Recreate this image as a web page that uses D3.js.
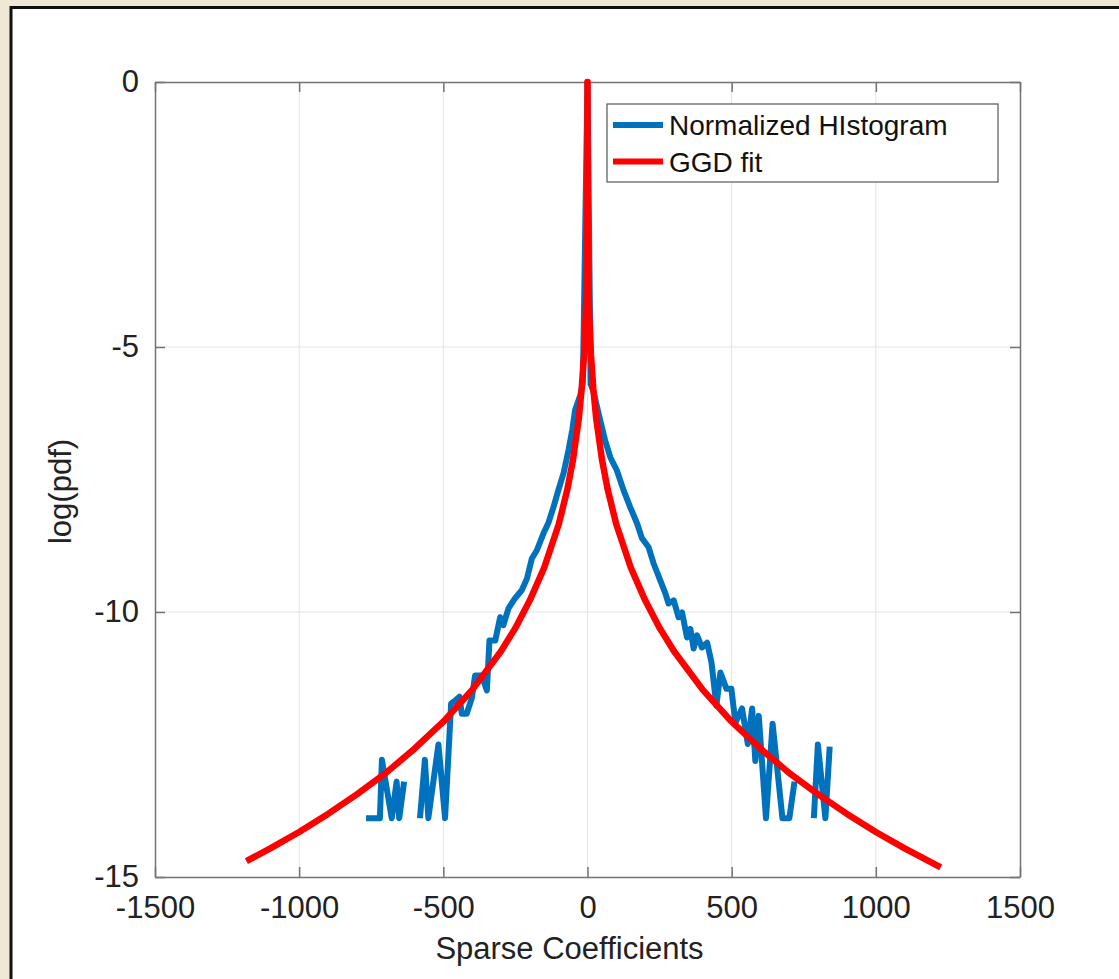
<!DOCTYPE html>
<html>
<head>
<meta charset="utf-8">
<script src="https://cdn.jsdelivr.net/npm/d3@7"></script>
<style>
  body { margin: 0; background: #f0e7d5; }
  svg { display: block; }
</style>
</head>
<body>
<div id="chart"></div>
<script>
// normalized histogram (log pdf), null = empty bin
const histX = [-768, -720, -713, -679, -662, -653, -636, -608, -581, -564, -552, -517, -494, -473, -459, -444, -436, -419, -401, -390, -367, -349, -340, -320, -303, -292, -274, -251, -228, -210, -193, -176, -153, -135, -118, -101, -83, -66, -53, -43, -25, -16, 0, 11, 21, 44, 61, 79, 102, 125, 148, 172, 189, 212, 229, 252, 270, 281, 299, 316, 328, 345, 357, 368, 380, 397, 415, 430, 447, 461, 482, 499, 513, 536, 556, 571, 582, 594, 619, 642, 676, 700, 718, 750, 785, 799, 825, 840];
const histY = [-13.89, -13.89, -12.79, -13.89, -13.20, -13.89, -13.20, null, -13.89, -12.79, -13.89, -12.50, -13.89, -11.73, -11.67, -11.60, -11.92, -11.92, -11.62, -11.20, -11.20, -11.48, -10.54, -10.54, -10.10, -10.25, -9.93, -9.74, -9.59, -9.37, -8.99, -8.84, -8.52, -8.31, -8.02, -7.70, -7.38, -6.95, -6.57, -6.19, -5.91, -5.66, 0, -5.70, -5.85, -6.38, -6.76, -7.08, -7.33, -7.70, -8.02, -8.33, -8.61, -8.78, -9.08, -9.40, -9.65, -9.84, -9.78, -10.10, -10.01, -10.48, -10.32, -10.69, -10.44, -10.67, -10.58, -10.95, -11.77, -11.14, -11.45, -11.45, -12.09, -11.82, -12.49, -11.82, -12.81, -11.96, -13.89, -12.11, -13.89, -13.89, -13.20, null, -13.89, -12.50, -13.89, -12.54];

// generalized gaussian fit
const ggdX = [-1183, -1100, -1000, -900, -800, -700, -600, -500, -400, -300, -250, -200, -150, -100, -70, -50, -30, -20, -12, -6, -3, -1, 0, 1, 3, 6, 12, 20, 30, 50, 70, 100, 150, 200, 250, 300, 400, 500, 600, 700, 800, 900, 1000, 1100, 1225];
const ggdY = [-14.70, -14.46, -14.15, -13.81, -13.44, -13.04, -12.58, -12.07, -11.47, -10.74, -10.30, -9.78, -9.16, -8.35, -7.69, -7.12, -6.34, -5.78, -5.14, -4.38, -3.74, -2.91, 0, -2.91, -3.74, -4.38, -5.14, -5.78, -6.34, -7.12, -7.69, -8.35, -9.16, -9.78, -10.30, -10.74, -11.47, -12.07, -12.58, -13.04, -13.44, -13.81, -14.15, -14.46, -14.82];

const xTicks = [-1500, -1000, -500, 0, 500, 1000, 1500];
const yTicks = [-15, -10, -5, 0];
const seriesNames = ["Normalized HIstogram", "GGD fit"];
const seriesColors = ["#0072bd", "#ff0000"];

const W = 1119, H = 979;
const plot = { left: 155, right: 1020, top: 82, bottom: 877 };
const font = "'Liberation Sans', Arial, Helvetica, sans-serif";
const plain = d => String(d);

const svg = d3.select("#chart").append("svg")
    .attr("width", W)
    .attr("height", H);

// page frame
svg.append("rect")
    .attr("x", 11).attr("y", 7.5)
    .attr("width", W).attr("height", H)
    .attr("fill", "#fff")
    .attr("stroke", "#111")
    .attr("stroke-width", 3);

const x = d3.scaleLinear().domain([-1500, 1500]).range([plot.left, plot.right]);
const y = d3.scaleLinear().domain([-15, 0]).range([plot.bottom, plot.top]);

// grid
const grid = svg.append("g").attr("stroke", "#e3e3e3").attr("stroke-width", 1);
grid.selectAll(".gx")
    .data(xTicks.slice(1, -1))
    .enter().append("line")
    .attr("x1", d => x(d)).attr("x2", d => x(d))
    .attr("y1", plot.top).attr("y2", plot.bottom);
grid.selectAll(".gy")
    .data(yTicks.slice(1, -1))
    .enter().append("line")
    .attr("x1", plot.left).attr("x2", plot.right)
    .attr("y1", d => y(d)).attr("y2", d => y(d));

// axes
const axisColor = "#737373";
const xAxis = svg.append("g")
    .attr("class", "x-axis")
    .attr("transform", `translate(0,${plot.bottom})`)
    .call(d3.axisBottom(x).tickValues(xTicks).tickFormat(plain).tickSize(-10).tickSizeOuter(0));
xAxis.selectAll("text").attr("y", 41).attr("dy", 0);

svg.append("g")
    .attr("transform", `translate(0,${plot.top})`)
    .call(d3.axisTop(x).tickValues(xTicks).tickSize(-10).tickSizeOuter(0))
    .selectAll("text").remove();

svg.append("g")
    .attr("class", "y-axis")
    .attr("transform", `translate(${plot.left},0)`)
    .call(d3.axisLeft(y).tickValues(yTicks).tickFormat(plain).tickSize(-10).tickSizeOuter(0).tickPadding(16));

svg.append("g")
    .attr("transform", `translate(${plot.right},0)`)
    .call(d3.axisRight(y).tickValues(yTicks).tickSize(-10).tickSizeOuter(0))
    .selectAll("text").remove();

svg.selectAll(".tick line, .domain")
    .attr("stroke", axisColor)
    .attr("stroke-width", 1.5);
svg.selectAll(".x-axis text, .y-axis text")
    .attr("fill", "#222")
    .attr("font-family", font)
    .attr("font-size", "31px");

// lines
svg.append("clipPath").attr("id", "plot-clip")
    .append("rect")
    .attr("x", plot.left).attr("y", plot.top - 4)
    .attr("width", plot.right - plot.left)
    .attr("height", plot.bottom - plot.top + 4);

const line = d3.line()
    .defined(d => d[1] !== null)
    .x(d => x(d[0]))
    .y(d => y(d[1]));

const histData = histX.map((v, i) => [v, histY[i]]);
const ggdData = ggdX.map((v, i) => [v, ggdY[i]]);

svg.append("path")
    .datum(histData)
    .attr("clip-path", "url(#plot-clip)")
    .attr("fill", "none")
    .attr("stroke", seriesColors[0])
    .attr("stroke-width", 6)
    .attr("stroke-linejoin", "round")
    .attr("d", line);

svg.append("path")
    .datum(ggdData)
    .attr("clip-path", "url(#plot-clip)")
    .attr("fill", "none")
    .attr("stroke", seriesColors[1])
    .attr("stroke-width", 6.5)
    .attr("stroke-linejoin", "round")
    .attr("d", line);

// axis labels
svg.append("text")
    .attr("x", (plot.left + plot.right) / 2 - 18)
    .attr("y", 959)
    .attr("text-anchor", "middle")
    .attr("font-family", font)
    .attr("font-size", "31px")
    .attr("fill", "#222")
    .text("Sparse Coefficients");

svg.append("text")
    .attr("transform", `translate(71,${(plot.top + plot.bottom) / 2 + 12}) rotate(-90)`)
    .attr("text-anchor", "middle")
    .attr("font-family", font)
    .attr("font-size", "31px")
    .attr("fill", "#222")
    .text("log(pdf)");

// legend
const legend = svg.append("g").attr("transform", "translate(607,104)");
legend.append("rect")
    .attr("width", 391).attr("height", 78)
    .attr("fill", "#fff")
    .attr("stroke", "#555")
    .attr("stroke-width", 1.2);

const items = legend.selectAll(".legend-item")
    .data(seriesNames)
    .enter().append("g")
    .attr("class", "legend-item")
    .attr("transform", (d, i) => `translate(0,${21 + i * 36.5})`);
items.append("line")
    .attr("x1", 6).attr("x2", 56)
    .attr("stroke", (d, i) => seriesColors[i])
    .attr("stroke-width", 6);
items.append("text")
    .attr("x", 62).attr("y", 10)
    .attr("font-family", font)
    .attr("font-size", "28px")
    .attr("fill", "#111")
    .text(d => d);
</script>
</body>
</html>
